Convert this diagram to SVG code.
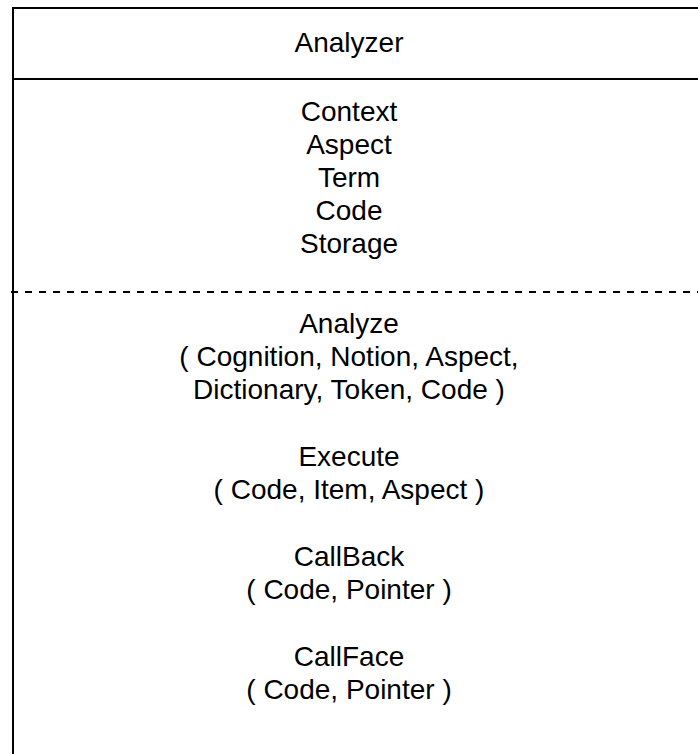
<svg xmlns="http://www.w3.org/2000/svg" width="698" height="754" viewBox="0 0 698 754">
<style>
.t{font-family:"Liberation Sans",Arial,sans-serif;font-size:28px;fill:#000;text-anchor:middle}
.b{stroke:#000;stroke-width:2;fill:none}
.d{stroke:#000;stroke-width:2;stroke-dasharray:7 7;fill:none}
</style>
<rect width="698" height="754" fill="#fff"/>
<g id="analyzer">
<path class="b" d="M13,760 V8 H710"/>
<line class="b" x1="13" y1="79" x2="710" y2="79"/>
<line class="d" x1="11" y1="292" x2="710" y2="292"/>
<text class="t" x="349" y="52">Analyzer</text>
<text class="t" x="349" y="121">Context</text>
<text class="t" x="349" y="154">Aspect</text>
<text class="t" x="349" y="187">Term</text>
<text class="t" x="349" y="220">Code</text>
<text class="t" x="349" y="253">Storage</text>
<text class="t" x="349" y="333">Analyze</text>
<text class="t" x="349" y="366">( Cognition, Notion, Aspect,</text>
<text class="t" x="349" y="399">Dictionary, Token, Code )</text>
<text class="t" x="349" y="466">Execute</text>
<text class="t" x="349" y="499">( Code, Item, Aspect )</text>
<text class="t" x="349" y="566">CallBack</text>
<text class="t" x="349" y="599">( Code, Pointer )</text>
<text class="t" x="349" y="666">CallFace</text>
<text class="t" x="349" y="699">( Code, Pointer )</text>
</g>
<g id="connectors"></g>
</svg>
